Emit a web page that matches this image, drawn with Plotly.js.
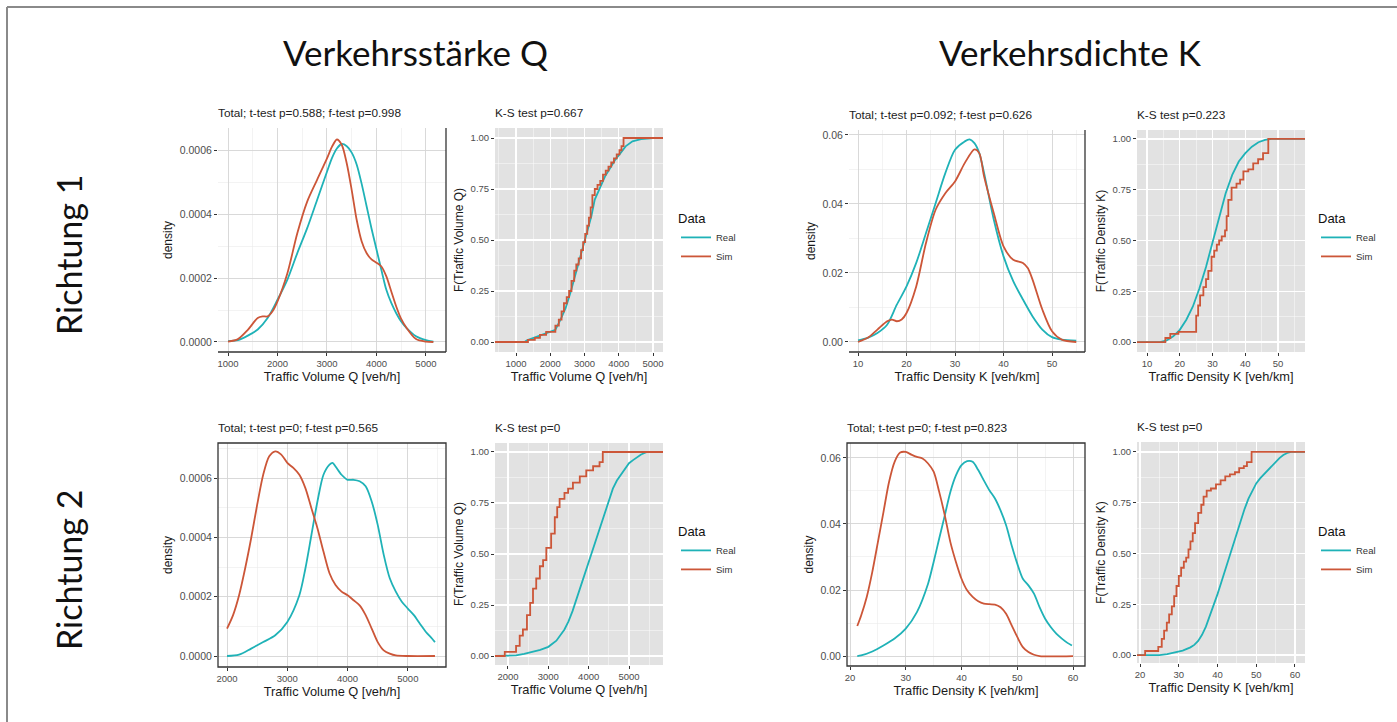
<!DOCTYPE html>
<html><head><meta charset="utf-8">
<script src="https://cdn.plot.ly/plotly-3.0.1.min.js"></script>
<style>html,body{margin:0;padding:0;background:#fff}#chart{width:1397px;height:722px}</style>
</head><body><div id="chart"></div>
<script>
// ---------------- DATA ----------------
const colTitles = ["Verkehrsstärke Q", "Verkehrsdichte K"];
const rowTitles = ["Richtung 1", "Richtung 2"];
const seriesNames = ["Real", "Sim"];
const legendTitle = "Data";
const panelTitles = [
  "Total; t-test p=0.588; f-test p=0.998", "K-S test p=0.667",
  "Total; t-test p=0.092; f-test p=0.626", "K-S test p=0.223",
  "Total; t-test p=0; f-test p=0.565", "K-S test p=0",
  "Total; t-test p=0; f-test p=0.823", "K-S test p=0"
];
const xTitleQ = "Traffic Volume Q [veh/h]";
const xTitleK = "Traffic Density K [veh/km]";
const yTitleDens = "density";
const yTitleEcdfQ = "F(Traffic Volume Q)";
const yTitleEcdfK = "F(Traffic Density K)";

// Richtung 1, Q density
const r1QDensRealX = [1000,1200,1400,1600,1800,2000,2200,2400,2600,2800,3000,3100,3200,3300,3400,3500,3600,3700,3800,3900,4000,4100,4200,4300,4400,4500,4600,4800,5000,5150];
const r1QDensRealY = [0.000003,0.000006,0.00002,0.000039,0.000075,0.000132,0.000195,0.000278,0.000356,0.000444,0.000532,0.000575,0.000605,0.000619,0.000612,0.000592,0.000555,0.000495,0.000425,0.000355,0.000290,0.000225,0.000163,0.000122,0.00009,0.000064,0.000045,0.000018,0.000006,0.000001];
const r1QDensSimX = [1000,1200,1400,1600,1700,1800,1900,2000,2200,2400,2600,2800,3000,3100,3200,3300,3400,3500,3600,3700,3800,3900,4000,4100,4200,4300,4400,4500,4600,4800,5000,5150];
const r1QDensSimY = [0.000001,0.000009,0.000038,0.000075,0.00008,0.00008,0.000096,0.000127,0.000215,0.00034,0.000439,0.000507,0.000574,0.00061,0.000633,0.000616,0.000558,0.000475,0.000382,0.000315,0.000278,0.000258,0.000248,0.000236,0.000205,0.000158,0.000111,0.000072,0.000046,0.000009,0.000001,0.0];
// Richtung 1, Q ECDF
const r1QEcdfRealX = [1250,1320,1610,1900,2150,2300,2450,2600,2750,2900,3050,3200,3300,3450,3600,3750,3900,4050,4200,4400,4650,5000,5150];
const r1QEcdfRealY = [0,0.008,0.025,0.044,0.06,0.11,0.167,0.248,0.338,0.428,0.518,0.616,0.698,0.755,0.812,0.853,0.894,0.926,0.959,0.984,0.995,0.999,1.0];
const r1QEcdfSimX = [1350,1550,1700,1880,2150,2250,2330,2400,2480,2550,2620,2700,2760,2830,2900,2960,3020,3080,3130,3180,3230,3300,3380,3460,3540,3620,3700,3780,3860,3940,4020,4080,4140];
const r1QEcdfSimY = [0.01,0.02,0.035,0.05,0.08,0.11,0.15,0.19,0.22,0.25,0.30,0.35,0.38,0.41,0.45,0.49,0.53,0.57,0.61,0.66,0.72,0.75,0.77,0.79,0.82,0.84,0.86,0.88,0.90,0.92,0.94,0.96,1.0];

// Richtung 1, K density
const r1KDensRealX = [10,12,14,16,18,20,22,24,26,28,30,32,33,34,35,36,38,40,42,44,46,48,50,52,55];
const r1KDensRealY = [0.0005,0.0012,0.0026,0.005,0.0108,0.0161,0.0229,0.0315,0.0402,0.0489,0.0557,0.0581,0.0587,0.0576,0.0547,0.0489,0.0354,0.0248,0.0176,0.0123,0.0074,0.0036,0.0014,0.0007,0.0004];
const r1KDensSimX = [10,12,14,16,17,18,19,20,22,24,26,28,30,32,34,35,36,38,40,42,44,45,46,48,50,52,55];
const r1KDensSimY = [0,0.0012,0.0036,0.006,0.0065,0.006,0.0065,0.0084,0.0161,0.0286,0.0383,0.0431,0.0465,0.0518,0.0558,0.0547,0.0479,0.0373,0.0277,0.0238,0.0229,0.0214,0.018,0.0094,0.0031,0.0007,0];
// Richtung 1, K ECDF
const r1KEcdfRealX = [14,16,18,20,22,24,26,28,30,32,34,36,38,40,42,44,46,48];
const r1KEcdfRealY = [0,0.008,0.028,0.06,0.11,0.175,0.265,0.37,0.495,0.62,0.733,0.823,0.889,0.93,0.962,0.984,0.995,1.0];
const r1KEcdfSimX = [15.6,17.1,19.6,25.0,25.6,26.2,27.2,28.0,28.7,29.7,30.5,31.3,32.0,32.8,33.8,34.3,34.8,35.8,37.3,38.4,39.4,40.9,42.4,43.9,45.4,47.0];
const r1KEcdfSimY = [0.02,0.04,0.05,0.13,0.18,0.23,0.27,0.31,0.35,0.42,0.45,0.48,0.50,0.52,0.55,0.62,0.70,0.76,0.78,0.80,0.84,0.85,0.88,0.90,0.93,1.0];

// Richtung 2, Q density
const r2QDensRealX = [2000,2200,2400,2600,2800,3000,3200,3300,3400,3500,3600,3700,3750,3800,3900,4000,4100,4200,4300,4400,4500,4600,4700,4800,4900,5000,5100,5200,5300,5400,5450];
const r2QDensRealY = [0,0.0000045,0.000025,0.000047,0.00007,0.000115,0.000205,0.000295,0.000408,0.000521,0.000611,0.000645,0.000651,0.000639,0.000611,0.000594,0.000594,0.000589,0.000572,0.000521,0.000442,0.000341,0.000262,0.000217,0.000183,0.00016,0.000138,0.000109,0.000081,0.000059,0.000047];
const r2QDensSimX = [2000,2100,2200,2300,2400,2500,2600,2700,2800,2900,3000,3100,3200,3300,3400,3500,3600,3700,3800,3900,4000,4100,4200,4300,4400,4500,4600,4700,4800,5000,5450];
const r2QDensSimY = [0.0000925,0.000138,0.000205,0.000295,0.000397,0.00051,0.000611,0.000673,0.00069,0.000679,0.000651,0.000634,0.000611,0.000566,0.000498,0.000431,0.000352,0.000279,0.000239,0.000217,0.000205,0.000188,0.000171,0.000138,0.0000925,0.000047,0.000019,0.000008,0.000002,0,0];
// Richtung 2, Q ECDF
const r2QEcdfRealX = [2100,2200,2400,2600,2800,3000,3200,3400,3500,3600,3700,3800,3900,4000,4100,4200,4300,4400,4500,4600,4700,4800,4900,5000,5100,5200,5300,5400,5450];
const r2QEcdfRealY = [0,0.003,0.01,0.02,0.03,0.045,0.075,0.13,0.17,0.22,0.28,0.34,0.41,0.47,0.53,0.59,0.65,0.71,0.77,0.82,0.86,0.89,0.92,0.945,0.96,0.975,0.988,0.996,1.0];
const r2QEcdfSimX = [1920,2200,2290,2370,2470,2550,2620,2700,2790,2870,2950,3070,3160,3220,3280,3400,3490,3610,3780,3940,4110,4270,4350];
const r2QEcdfSimY = [0.02,0.05,0.10,0.13,0.20,0.26,0.33,0.38,0.44,0.47,0.53,0.60,0.68,0.73,0.77,0.80,0.82,0.85,0.88,0.91,0.93,0.95,1.0];

// Richtung 2, K density
const r2KDensRealX = [21.3,22,24,26,28,30,32,34,35,36,37,38,39,40,41,42,43,44,45,46,47,48,49,50,51,52,53,54,55,56,57,58,59,59.8];
const r2KDensRealY = [0,0.0002,0.0014,0.0032,0.0053,0.0083,0.0133,0.0219,0.0285,0.0356,0.0426,0.0497,0.0547,0.0578,0.059,0.0588,0.0563,0.0532,0.0502,0.0477,0.0441,0.0396,0.0335,0.028,0.0234,0.0214,0.0189,0.0148,0.0113,0.0088,0.0068,0.0053,0.004,0.0032];
const r2KDensSimX = [21.3,22,23,24,25,26,27,28,29,30,31,32,33,34,35,36,37,38,39,40,41,42,43,44,45,46,47,48,49,50,51,52,53,54,60];
const r2KDensSimY = [0.0091,0.0123,0.0179,0.0255,0.0345,0.0436,0.0527,0.0588,0.0616,0.0618,0.061,0.0603,0.0598,0.0583,0.0558,0.0497,0.0426,0.0345,0.0285,0.0234,0.0199,0.0179,0.0166,0.0159,0.0157,0.0156,0.0148,0.0128,0.0093,0.0058,0.0027,0.0012,0.0004,0,0];
// Richtung 2, K ECDF
const r2KEcdfRealX = [25,27,29,31,33,34,35,36,37,38,39,40,41,42,43,44,45,46,47,48,49,50,51,52,53,54,55,56,57,58,59];
const r2KEcdfRealY = [0,0.005,0.012,0.022,0.038,0.05,0.07,0.10,0.14,0.19,0.25,0.30,0.36,0.42,0.49,0.55,0.61,0.67,0.72,0.77,0.81,0.845,0.87,0.89,0.915,0.935,0.955,0.97,0.985,0.995,1.0];
const r2KEcdfSimX = [21.3,24.7,25.6,26.2,26.9,27.5,28.2,28.8,29.4,30.0,30.6,31.3,31.9,32.5,33.0,33.6,34.2,35.0,35.8,36.4,37.2,38.3,39.6,40.8,42.0,43.2,44.5,45.6,46.8,47.6,48.8];
const r2KEcdfSimY = [0.02,0.04,0.08,0.12,0.16,0.20,0.24,0.29,0.34,0.39,0.43,0.46,0.48,0.52,0.56,0.60,0.65,0.70,0.74,0.78,0.81,0.82,0.84,0.86,0.88,0.89,0.90,0.92,0.93,0.95,1.0];

// ---------------- LAYOUT / STYLE ----------------
const W = 1397, H = 722;
const realColor = '#1fb2b7', simColor = '#cc5638';
const FONT = 'Liberation Sans, Arial, sans-serif';
const BIG = 'Lato, Noto Sans, sans-serif';
function dx(a, b) { return [a / W, b / W]; }
function dy(top, bot) { return [1 - bot / H, 1 - top / H]; }

// panel geometry (pixels) & axis settings
const panels = [
  {px:[218,446], py:[128,352], xr:[797,5406], yr:[-0.0000313,0.000669], xdt:1000, ydt:0.0002, yfmt:'.4f', ecdf:false, row:0, xt:xTitleQ, yt:yTitleDens},
  {px:[495,663], py:[128,352], xr:[387,5292], yr:[-0.049,1.049], xdt:1000, ydt:0.25, yfmt:'.2f', ecdf:true, row:0, xt:xTitleQ, yt:yTitleEcdfQ, leg:[676,206]},
  {px:[849,1085], py:[130,352], xr:[8.14,56.8], yr:[-0.0029,0.0614], xdt:10, ydt:0.02, yfmt:'.2f', ecdf:false, row:0, xt:xTitleK, yt:yTitleDens},
  {px:[1137,1305], py:[130,352], xr:[6.95,58.2], yr:[-0.049,1.044], xdt:10, ydt:0.25, yfmt:'.2f', ecdf:true, row:0, xt:xTitleK, yt:yTitleEcdfK, leg:[1316,206]},
  {px:[218,446], py:[443,667], xr:[1850,5633], yr:[-0.000037,0.000718], xdt:1000, ydt:0.0002, yfmt:'.4f', ecdf:false, row:1, xt:xTitleQ, yt:yTitleDens},
  {px:[495,663], py:[443,665], xr:[1678,5843], yr:[-0.044,1.044], xdt:1000, ydt:0.25, yfmt:'.2f', ecdf:true, row:1, xt:xTitleQ, yt:yTitleEcdfQ, leg:[676,519]},
  {px:[847,1085], py:[443,666], xr:[19.46,62.15], yr:[-0.003,0.0645], xdt:10, ydt:0.02, yfmt:'.2f', ecdf:false, row:1, xt:xTitleK, yt:yTitleDens},
  {px:[1137,1305], py:[442,663], xr:[19.2,62.6], yr:[-0.039,1.049], xdt:10, ydt:0.25, yfmt:'.2f', ecdf:true, row:1, xt:xTitleK, yt:yTitleEcdfK, leg:[1316,519]}
];
const panelData = [
  [r1QDensRealX, r1QDensRealY, r1QDensSimX, r1QDensSimY],
  [r1QEcdfRealX, r1QEcdfRealY, r1QEcdfSimX, r1QEcdfSimY],
  [r1KDensRealX, r1KDensRealY, r1KDensSimX, r1KDensSimY],
  [r1KEcdfRealX, r1KEcdfRealY, r1KEcdfSimX, r1KEcdfSimY],
  [r2QDensRealX, r2QDensRealY, r2QDensSimX, r2QDensSimY],
  [r2QEcdfRealX, r2QEcdfRealY, r2QEcdfSimX, r2QEcdfSimY],
  [r2KDensRealX, r2KDensRealY, r2KDensSimX, r2KDensSimY],
  [r2KEcdfRealX, r2KEcdfRealY, r2KEcdfSimX, r2KEcdfSimY]
];

const traces = [];
const layout = {
  width: W, height: H,
  margin: {l:0, r:0, t:0, b:0},
  paper_bgcolor: '#fff',
  plot_bgcolor: 'rgba(0,0,0,0)',
  font: {family: FONT, color: '#333'},
  shapes: [], annotations: []
};
let legendCount = 0;
panels.forEach((p, i) => {
  const n = i + 1, sfx = n === 1 ? '' : String(n);
  const xa = 'x' + sfx, ya = 'y' + sfx;
  const [rx, ry, sx, sy] = panelData[i];
  const gridMaj = p.ecdf ? '#ffffff' : '#d5d5d5';
  const gridMin = p.ecdf ? 'rgba(255,255,255,0.75)' : '#ebebeb';
  const common = {
    ticks: 'outside', ticklen: 3, tickwidth: 1, tickcolor: '#333',
    showgrid: true, gridcolor: gridMaj, gridwidth: p.ecdf ? 1.3 : 0.9,
    zeroline: false, showline: false, fixedrange: true
  };
  layout['xaxis' + sfx] = Object.assign({}, common, {
    domain: dx(p.px[0], p.px[1]), range: p.xr, anchor: ya,
    tick0: 0, dtick: p.xdt, tickfont: {family: FONT, size: 9.5, color: '#4d4d4d'},
    minor: {dtick: p.xdt / 2, tick0: 0, showgrid: true, gridcolor: gridMin, gridwidth: 0.6},
    title: {text: p.xt, font: {family: FONT, size: 12.8, color: '#1a1a1a'}, standoff: 1}
  });
  layout['yaxis' + sfx] = Object.assign({}, common, {
    domain: dy(p.py[0], p.py[1]), range: p.yr, anchor: xa,
    tick0: 0, dtick: p.ydt, tickformat: p.yfmt,
    tickfont: {family: FONT, size: p.ecdf ? 9.5 : 10.5, color: '#4d4d4d'},
    minor: {dtick: p.ydt / 2, tick0: 0, showgrid: true, gridcolor: gridMin, gridwidth: 0.6},
    title: {text: p.yt, font: {family: FONT, size: 12, color: '#1a1a1a'}, standoff: 4}
  });
  // panel subtitle
  layout.annotations.push({
    text: panelTitles[i], xref: 'paper', yref: 'paper',
    x: (p.px[0] - 2) / W, y: 1 - (p.py[0] - 15) / H, xanchor: 'left', yanchor: 'middle',
    showarrow: false, font: {family: FONT, size: 11.8, color: '#222'}
  });
  if (p.ecdf) {
    layout.shapes.push({type: 'rect', xref: xa + ' domain', yref: ya + ' domain', x0: 0, x1: 1, y0: 0, y1: 1,
      fillcolor: '#e2e2e2', line: {width: 0}, layer: 'below'});
    legendCount++;
    const legId = legendCount === 1 ? 'legend' : 'legend' + legendCount;
    layout[legId] = {
      x: p.leg[0] / W, y: 1 - p.leg[1] / H, xanchor: 'left', yanchor: 'top',
      xref: 'paper', yref: 'paper',
      title: {text: legendTitle, font: {family: FONT, size: 13, color: '#111'}},
      font: {family: FONT, size: 9.5, color: '#333'}, bgcolor: 'rgba(0,0,0,0)',
      itemwidth: 30, tracegroupgap: 0
    };
    traces.push({x: [p.xr[0]].concat(rx, [p.xr[1]]), y: [0].concat(ry, [1]), xaxis: xa, yaxis: ya,
      mode: 'lines', line: {color: realColor, width: 1.8, shape: 'linear'}, name: seriesNames[0],
      legend: legId, showlegend: true, hoverinfo: 'skip'});
    traces.push({x: [p.xr[0]].concat(sx, [p.xr[1]]), y: [0].concat(sy, [1]), xaxis: xa, yaxis: ya,
      mode: 'lines', line: {color: simColor, width: 1.8, shape: 'hv'}, name: seriesNames[1],
      legend: legId, showlegend: true, hoverinfo: 'skip'});
  } else {
    const bl = {color: '#333', width: 1.3};
    if (p.row === 0) {
      layout.shapes.push({type: 'line', xref: xa + ' domain', yref: ya + ' domain', x0: 1, x1: 1, y0: 0, y1: 1, line: bl});
      layout.shapes.push({type: 'line', xref: xa + ' domain', yref: ya + ' domain', x0: 0, x1: 1, y0: 0, y1: 0, line: bl});
    } else {
      layout.shapes.push({type: 'rect', xref: xa + ' domain', yref: ya + ' domain', x0: 0, x1: 1, y0: 0, y1: 1, line: bl, fillcolor: 'rgba(0,0,0,0)'});
    }
    traces.push({x: rx, y: ry, xaxis: xa, yaxis: ya, mode: 'lines',
      line: {color: realColor, width: 1.8, shape: 'spline', smoothing: 0.8}, showlegend: false, hoverinfo: 'skip'});
    traces.push({x: sx, y: sy, xaxis: xa, yaxis: ya, mode: 'lines',
      line: {color: simColor, width: 1.8, shape: 'spline', smoothing: 0.8}, showlegend: false, hoverinfo: 'skip'});
  }
});

// page frame (top and left edges)
layout.shapes.push({type: 'line', xref: 'paper', yref: 'paper', x0: 7 / W, x1: 1, y0: 1 - 7 / H, y1: 1 - 7 / H, line: {color: '#8a8a8a', width: 2}});
layout.shapes.push({type: 'line', xref: 'paper', yref: 'paper', x0: 7 / W, x1: 7 / W, y0: 0, y1: 1 - 7 / H, line: {color: '#8a8a8a', width: 2}});

// column & row headings
[[415, colTitles[0]], [1070, colTitles[1]]].forEach(([cx, t]) => {
  layout.annotations.push({text: t, xref: 'paper', yref: 'paper', x: cx / W, y: 1 - 52 / H,
    xanchor: 'center', yanchor: 'middle', showarrow: false, font: {family: BIG, size: 35, color: '#111'}});
});
[[255, rowTitles[0]], [570, rowTitles[1]]].forEach(([cy, t]) => {
  layout.annotations.push({text: t, xref: 'paper', yref: 'paper', x: 68 / W, y: 1 - cy / H,
    xanchor: 'center', yanchor: 'middle', textangle: -90, showarrow: false, font: {family: BIG, size: 34, color: '#111'}});
});

Plotly.newPlot('chart', traces, layout, {staticPlot: true, displayModeBar: false});
</script></body></html>
